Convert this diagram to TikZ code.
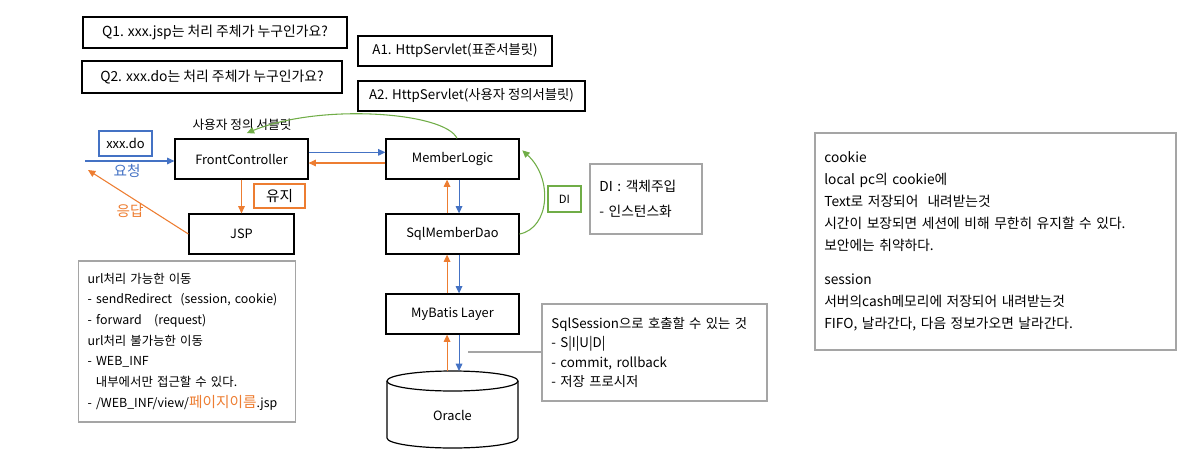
\documentclass[tikz,border=0pt]{standalone}
\usepackage{fontspec}
\setmainfont{Noto Sans CJK KR}
\usetikzlibrary{arrows.meta}
\definecolor{reqblue}{HTML}{4472C4}
\definecolor{resorange}{HTML}{ED7D31}
\definecolor{digreen}{HTML}{70AD47}
\definecolor{notegray}{HTML}{A5A5A5}
\tikzset{
  comp/.style={draw, line width=0.9pt, minimum width=99.75pt, minimum height=30pt,
    inner sep=0pt, font=\fontsize{9.6}{11}\selectfont},
  qa/.style={draw, line width=0.9pt, inner sep=0pt, minimum height=22.5pt,
    font=\fontsize{10}{12}\selectfont},
  tag/.style={draw, line width=0.9pt, inner sep=0pt, font=\fontsize{9.7}{11}\selectfont},
  note/.style={draw=notegray, line width=0.9pt, align=left, inner xsep=7pt, inner ysep=0pt},
  flow/.style={line width=0.8pt, -{Triangle[length=5.5pt,width=5pt]}},
}
\begin{document}
\begin{tikzpicture}[x=0.75pt,y=-0.75pt]
  \useasboundingbox (0,0) rectangle (1196,457);
  %% questions and answers
  \node[qa, minimum width=198pt, minimum height=23.25pt, font=\fontsize{10.4}{12}\selectfont] (q1) at (215,32.5) {Q1. xxx.jsp는 처리 주체가 누구인가요?};
  \node[qa, minimum width=195pt, minimum height=24pt, font=\fontsize{10.4}{12}\selectfont] (q2) at (212,77) {Q2. xxx.do는 처리 주체가 누구인가요?};
  \node[qa, minimum width=145.5pt] (a1) at (455,51) {A1. HttpServlet(표준서블릿)};
  \node[qa, minimum width=170.25pt] (a2) at (471.5,96) {A2. HttpServlet(사용자 정의서블릿)};
  %% components
  \node[comp] (fc) at (241.5,159) {FrontController};
  \node[comp, minimum width=78.75pt] (jsp) at (241.5,234) {JSP};
  \node[comp] (ml) at (452.5,159) {MemberLogic};
  \node[comp] (smd) at (452.5,234) {SqlMemberDao};
  \node[comp] (mybatis) at (452.5,314) {MyBatis Layer};
  %% Oracle
  \draw[line width=0.9pt] (387,381) -- (387,438)
    arc[start angle=180, end angle=0, x radius=65.5, y radius=10] -- (518,381);
  \draw[line width=0.9pt] (452.5,381) ellipse[x radius=65.5, y radius=10];
  \node[font=\fontsize{9.6}{11}\selectfont] (oracle) at (452.5,415) {Oracle};
  \coordinate (dbtop) at (452.5,371);
  %% tags
  \node[tag, draw=reqblue, minimum width=39.75pt, minimum height=18.75pt] (xdo) at (125.5,143.5) {xxx.do};
  \node[tag, draw=resorange, minimum width=38.25pt, minimum height=18pt, font=\fontsize{11}{12}\selectfont] (keep) at (279.5,196) {유지};
  \node[tag, draw=digreen, minimum width=24.75pt, minimum height=19.5pt, font=\fontsize{8.5}{10}\selectfont] (di) at (564.5,199) {DI};
  \node[text=reqblue, font=\fontsize{11}{12}\selectfont] (reqlbl) at (127,171) {요청};
  \node[text=resorange, font=\fontsize{11}{12}\selectfont] (reslbl) at (130,211) {응답};
  \node[font=\fontsize{9.5}{11}\selectfont] (custom) at (242,125) {사용자 정의 서블릿};
  %% request / response
  \coordinate (client) at (85,161);
  \coordinate (back) at (88,170);
  \draw[flow, reqblue] (client) -- (client -| fc.west);
  \draw[flow, resorange] (jsp.west) -- (back);
  \draw[flow, resorange] (fc.south) -- (jsp.north);
  \draw[flow, reqblue] ([yshift=5pt]fc.east) -- ([yshift=5pt]ml.west);
  \draw[flow, resorange] ([yshift=-3pt]ml.west) -- ([yshift=-3pt]fc.east);
  %% down the layers
  \draw[flow, reqblue] ([xshift=4.9pt]ml.south) -- ([xshift=4.9pt]smd.north);
  \draw[flow, resorange] ([xshift=-4.1pt]smd.north) -- ([xshift=-4.1pt]ml.south);
  \draw[flow, reqblue] ([xshift=4.9pt]smd.south) -- ([xshift=4.9pt]mybatis.north);
  \draw[flow, resorange] ([xshift=-4.1pt]mybatis.north) -- ([xshift=-4.1pt]smd.south);
  \draw[flow, reqblue] ([xshift=4.9pt]mybatis.south) -- ([xshift=4.9pt]dbtop);
  \draw[flow, resorange] ([xshift=-4.1pt]dbtop) -- ([xshift=-4.1pt]mybatis.south);
  %% green curves
  \draw[flow, digreen] ([xshift=3.4pt]ml.north) .. controls (445,112) and (320,103) .. ([xshift=4pt,yshift=4pt]fc.north);
  \draw[flow, digreen] (smd.east) .. controls (550,228) and (553,178) .. ([xshift=2pt,yshift=6.5pt]ml.east);
  %% notes
  \node[note, text width=70pt, minimum height=52.5pt, font=\fontsize{10.3}{18.75}\selectfont] (dinote) at (646,199)
    {DI : 객체주입\\- 인스턴스화};
  \node[note, text width=149pt, minimum height=120.75pt, font=\fontsize{9.3}{15.5}\selectfont] (urlnote) at (187,341.5)
    {url처리 가능한 이동\\- sendRedirect~ (session, cookie)\\- forward~~ (request)\\url처리 불가능한 이동\\- WEB\_INF\\~~내부에서만 접근할 수 있다.\\- /WEB\_INF/view/{\color{resorange}\fontsize{11}{15.5}\selectfont 페이지이름}.jsp};
  \node[note, text width=154.75pt, minimum height=72.75pt, font=\fontsize{10}{14.6}\selectfont] (sqlnote) at (654.5,352.5)
    {SqlSession으로 호출할 수 있는 것\\- S|I|U|D|\\- commit, rollback\\- 저장 프로시저};
  \coordinate (sqlpin) at (468,352);
  \draw[notegray, line width=0.8pt] (sqlpin) -- (sqlpin -| sqlnote.west);
  \node[note, text width=256.75pt, minimum height=162.75pt, font=\fontsize{10.3}{16.5}\selectfont] (cookienote) at (995.5,241.5)
    {cookie\\local pc의 cookie에\\Text로 저장되어~ 내려받는것\\시간이 보장되면 세션에 비해 무한히 유지할 수 있다.\\보안에는 취약하다.\\[9pt]session\\서버의cash메모리에 저장되어 내려받는것\\FIFO, 날라간다, 다음 정보가오면 날라간다.};
\end{tikzpicture}
\end{document}
